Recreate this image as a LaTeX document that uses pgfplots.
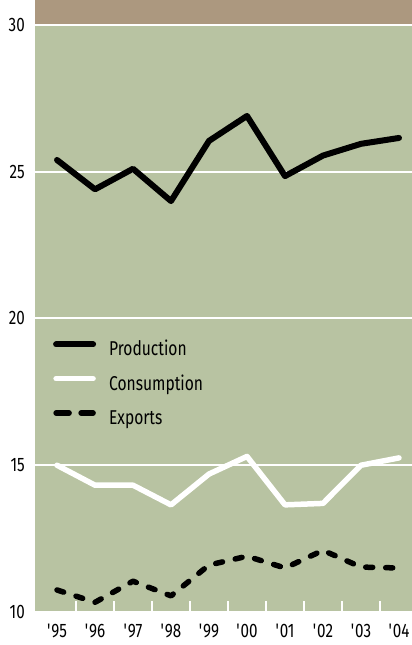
\documentclass[border=0pt]{standalone}
\usepackage{fontspec}
\setmainfont{Fira Sans}[FakeStretch=0.78]
\usepackage{pgfplots}
\pgfplotsset{compat=1.18}
\definecolor{bg}{RGB}{184,195,162}
\definecolor{band}{RGB}{172,152,127}
\begin{document}
\fontsize{19.5bp}{23bp}\selectfont
\begin{tikzpicture}
\begin{axis}[
 scale only axis, width=377bp, height=612bp,
 xmin=-0.579, xmax=9.342, ymin=10, ymax=30.85,
 axis line style={draw=none},
 axis background/.style={fill=bg},
 /pgf/number format/assume math mode=true,
 ytick={10,15,20,25,30},
 ymajorgrids, grid style={white, line width=2bp},
 xtick={0,...,9},
 xticklabels={\textquotesingle95,\textquotesingle96,\textquotesingle97,\textquotesingle98,\textquotesingle99,\textquotesingle00,\textquotesingle01,\textquotesingle02,\textquotesingle03,\textquotesingle04},
 minor xtick={0.5,1.5,...,8.5},
 xtick pos=bottom, ytick pos=left,
 tick align=inside,
 major tick length=0pt,
 minor tick length=11bp,
 minor tick style={white, line width=2bp},
 yticklabel style={anchor=east, inner sep=0pt, xshift=-10bp, font=\fontsize{19.5bp}{23bp}\selectfont},
 xticklabel style={anchor=north, inner sep=0pt, yshift=-12bp, font=\fontsize{19.5bp}{23bp}\selectfont},
 legend style={at={(axis description cs:0.048,0.442)}, anchor=north west, draw=none, fill=none,
   inner sep=0pt, outer sep=0pt, row sep=17bp,
   nodes={inner sep=0pt, text height=12bp, text depth=3bp, font=\fontsize{20bp}{23bp}\selectfont},
   /tikz/every odd column/.append style={column sep=13bp}},
 legend cell align=left,
 legend image code/.code={\draw[#1] (0bp,7bp) -- (37bp,7bp);},
]
\fill[band] (axis cs:-0.579,30.04) rectangle (axis cs:9.342,30.85);
\addplot[black, line width=6bp, line cap=round, line join=round] coordinates {
 (0,25.4) (1,24.4) (2,25.1) (3,24.0) (4,26.05) (5,26.9) (6,24.85) (7,25.55) (8,25.95) (9,26.15)};
\addlegendentry{Production}
\addplot[white, line width=5.5bp, line cap=round, line join=round] coordinates {
 (0,15.0) (1,14.32) (2,14.32) (3,13.65) (4,14.7) (5,15.3) (6,13.65) (7,13.7) (8,15.0) (9,15.25)};
\addlegendentry{Consumption}
\addplot[black, line width=5.5bp, line cap=round, line join=round, dash pattern=on 7bp off 13bp,
  legend image code/.code={\draw[black, line width=5.5bp, line cap=round, dash pattern=on 13bp off 12bp] (0bp,7bp) -- (37bp,7bp);}] coordinates {
 (0,10.75) (1,10.33) (2,11.05) (3,10.55) (4,11.6) (5,11.9) (6,11.5) (7,12.1) (8,11.53) (9,11.5)};
\addlegendentry{Exports}
\end{axis}
\pgfresetboundingbox
\path ([xshift=-35bp,yshift=-33bp]current axis.south west) rectangle (current axis.north east);
\end{tikzpicture}
\end{document}
